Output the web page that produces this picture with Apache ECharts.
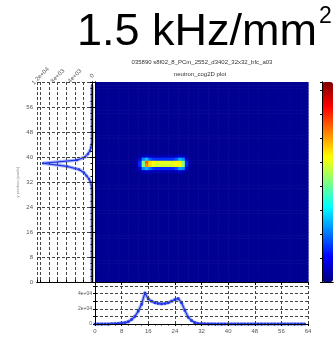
<!DOCTYPE html>
<html>
<head>
<meta charset="utf-8">
<script src="https://cdn.jsdelivr.net/npm/echarts@6/dist/echarts.min.js"></script>
<style>
  html, body { margin: 0; padding: 0; background: #fff; }
  #chart { width: 335px; height: 338px; }
</style>
</head>
<body>
<div id="chart"></div>
<script>
// Detector size (pixels per side) and tick positions shared by all panels
const GRID_SIZE = 64;
const TICK_STEP = 8;

// Flat level of the detector image away from the hot spot (normalised 0..1)
const BACKGROUND_LEVEL = 0.02;

// Hot-spot patch: rows 35..40 (bottom to top), columns 12..28
const HOT_ROW0 = 35;
const HOT_COL0 = 12;
const HOTSPOT = [
  [0.02, 0.03, 0.06, 0.08, 0.06, 0.05, 0.05, 0.05, 0.05, 0.05, 0.05, 0.05, 0.06, 0.08, 0.06, 0.03, 0.02],
  [0.03, 0.08, 0.26, 0.30, 0.24, 0.18, 0.16, 0.16, 0.16, 0.16, 0.16, 0.17, 0.20, 0.28, 0.26, 0.08, 0.03],
  [0.04, 0.16, 0.50, 0.74, 0.66, 0.60, 0.58, 0.58, 0.58, 0.58, 0.58, 0.60, 0.62, 0.62, 0.52, 0.16, 0.04],
  [0.04, 0.16, 0.48, 0.78, 0.66, 0.62, 0.60, 0.60, 0.60, 0.60, 0.60, 0.60, 0.62, 0.64, 0.50, 0.16, 0.04],
  [0.03, 0.08, 0.26, 0.32, 0.22, 0.18, 0.17, 0.17, 0.17, 0.17, 0.17, 0.18, 0.22, 0.30, 0.26, 0.08, 0.03],
  [0.02, 0.03, 0.06, 0.08, 0.06, 0.05, 0.05, 0.05, 0.05, 0.05, 0.05, 0.05, 0.06, 0.08, 0.06, 0.03, 0.02]
];

// Row projection (counts per detector row 0..63)
const ROW_PROFILE = [
  0, 0, 0, 0, 0, 0, 0, 0, 0, 0, 0, 0, 0, 0, 0, 0,
  0, 0, 0, 0, 0, 0, 0, 0, 0, 0, 0, 0, 0, 0, 50, 120,
  350, 700, 1280, 1860, 3000, 5800, 11400, 3500, 1630, 930, 470, 230, 80, 0, 0, 0,
  0, 0, 0, 0, 0, 0, 0, 0, 0, 0, 0, 0, 0, 0, 0, 0
];

// Column projection (counts per detector column 0..63)
const COL_PROFILE = [
  0, 0, 0, 0, 0, 300, 500, 800, 1200, 1800, 3000, 6000, 10000, 17000, 26000, 41000,
  33000, 30000, 28000, 27000, 26500, 27000, 28000, 30000, 32000, 33500, 28000, 18000, 9000, 4500, 1800, 600,
  300, 200, 150, 100, 60, 30, 0, 0, 0, 0, 0, 0, 0, 0, 0, 0,
  0, 0, 0, 0, 0, 0, 0, 0, 0, 0, 0, 0, 0, 0, 0, 0
];

// Jet colour ramp used by the image and the colour bar
const JET = ['#00007f', '#0000ff', '#007fff', '#00ffff', '#7fff7f', '#ffff00', '#ff7f00', '#ff0000', '#7f0000'];

const TITLE = '1.5 kHz/mm';
const TITLE_SUP = '2';
const RUN_LABEL = '035890 s8f02_8_PCm_2552_d3402_32x32_bfc_a03';
const PLOT_LABEL = 'neutron_cog2D plot';
const ROW_AXIS_NAME = 'y position (pixels)';

const FONT = 'Liberation Sans, Arial, sans-serif';

// Build image cells [col, row, level]
function levelAt(col, row) {
  const r = row - HOT_ROW0;
  const c = col - HOT_COL0;
  if (r >= 0 && r < HOTSPOT.length && c >= 0 && c < HOTSPOT[0].length) {
    return HOTSPOT[r][c];
  }
  return BACKGROUND_LEVEL;
}
const cells = [];
for (let row = 0; row < GRID_SIZE; row++) {
  for (let col = 0; col < GRID_SIZE; col++) {
    cells.push([col, row, levelAt(col, row)]);
  }
}
const rowSeries = ROW_PROFILE.map((v, i) => [v, i]);
const colSeries = COL_PROFILE.map((v, i) => [i, v]);

function sci(v) {
  if (v === 0) return '0';
  const parts = v.toExponential().split('e');
  const sign = parts[1][0];
  const digits = parts[1].slice(1).padStart(2, '0');
  return parts[0] + 'e' + sign + digits;
}

const dashed = { show: true, lineStyle: { color: '#444', width: 1, type: [3, 2] } };
const frameLine = { show: true, lineStyle: { color: '#000', width: 1 } };
const tickLabel = { fontSize: 6, color: '#555', fontFamily: FONT };

function plainAxis(extra) {
  return Object.assign({
    type: 'value',
    axisLine: frameLine,
    axisTick: { show: false },
    axisLabel: { show: false },
    splitLine: { show: false },
    z: 10
  }, extra);
}

const chart = echarts.init(document.getElementById('chart'), null, { renderer: 'canvas' });

chart.setOption({
  animation: false,
  backgroundColor: '#fff',
  textStyle: { fontFamily: FONT },
  title: [
    { text: TITLE, left: 77, top: 10, padding: 0,
      textStyle: { fontSize: 45, fontWeight: 'normal', color: '#000', fontFamily: FONT } },
    { text: TITLE_SUP, left: 319, top: 5, padding: 0,
      textStyle: { fontSize: 23, fontWeight: 'normal', color: '#000', fontFamily: FONT } },
    { text: RUN_LABEL, left: 202, top: 59, padding: 0, textAlign: 'center',
      textStyle: { fontSize: 6, fontWeight: 'normal', color: '#333', fontFamily: FONT } },
    { text: PLOT_LABEL, left: 200, top: 71, padding: 0, textAlign: 'center',
      textStyle: { fontSize: 6, fontWeight: 'normal', color: '#333', fontFamily: FONT } }
  ],
  grid: [
    { left: 95, top: 82, width: 213, height: 200 },   // image
    { left: 37, top: 82, width: 55, height: 200 },    // row projection
    { left: 95, top: 286, width: 213, height: 38 },   // column projection
    { left: 322, top: 82, width: 11, height: 200 }    // colour bar frame
  ],
  xAxis: [
    // image
    plainAxis({ gridIndex: 0, min: 0, max: GRID_SIZE, interval: TICK_STEP, position: 'top',
      axisTick: { show: true, inside: true, length: 3, lineStyle: { color: '#000' } } }),
    plainAxis({ gridIndex: 0, min: 0, max: GRID_SIZE, interval: TICK_STEP, position: 'bottom' }),
    // row projection
    plainAxis({ gridIndex: 1, min: 0, max: 12800, interval: 4000, position: 'top', inverse: true,
      axisTick: { show: true, length: 2, lineStyle: { color: '#000' } },
      minorTick: { show: true, splitNumber: 2, length: 2, lineStyle: { color: '#000' } },
      splitLine: dashed,
      minorSplitLine: dashed,
      axisLabel: Object.assign({ show: true, rotate: 45, margin: 6, align: 'center', verticalAlign: 'middle',
        formatter: sci }, tickLabel) }),
    plainAxis({ gridIndex: 1, min: 0, max: 12800, position: 'bottom', inverse: true }),
    // column projection
    plainAxis({ gridIndex: 2, min: 0, max: GRID_SIZE, interval: TICK_STEP, position: 'bottom',
      axisTick: { show: true, length: 2, lineStyle: { color: '#000' } },
      minorTick: { show: true, splitNumber: 4, length: 1.5, lineStyle: { color: '#000' } },
      splitLine: dashed,
      axisLabel: Object.assign({ show: true, margin: 4 }, tickLabel) }),
    plainAxis({ gridIndex: 2, min: 0, max: GRID_SIZE, position: 'top' }),
    // colour bar frame
    plainAxis({ gridIndex: 3, min: 0, max: 1, position: 'bottom' }),
    plainAxis({ gridIndex: 3, min: 0, max: 1, position: 'top' })
  ],
  yAxis: [
    // image
    plainAxis({ gridIndex: 0, min: 0, max: GRID_SIZE, interval: TICK_STEP, position: 'right',
      axisTick: { show: true, inside: true, length: 3, lineStyle: { color: '#000' } } }),
    plainAxis({ gridIndex: 0, min: 0, max: GRID_SIZE, interval: TICK_STEP, position: 'left' }),
    // row projection
    plainAxis({ gridIndex: 1, min: 0, max: GRID_SIZE, interval: TICK_STEP, position: 'left',
      axisTick: { show: true, length: 2, lineStyle: { color: '#000' } },
      minorTick: { show: true, splitNumber: 4, length: 1.5, lineStyle: { color: '#000' } },
      splitLine: dashed,
      name: ROW_AXIS_NAME, nameLocation: 'middle', nameGap: 17, nameRotate: 90,
      nameTextStyle: { fontSize: 4, color: '#888', fontFamily: FONT },
      axisLabel: Object.assign({ show: true, margin: 4, showMaxLabel: false }, tickLabel) }),
    plainAxis({ gridIndex: 1, min: 0, max: GRID_SIZE, position: 'right' }),
    // column projection
    plainAxis({ gridIndex: 2, min: 0, max: 50000, interval: 10000, position: 'left',
      axisTick: { show: true, length: 2, lineStyle: { color: '#000' } },
      splitLine: dashed,
      axisLabel: Object.assign({ show: true, margin: 3,
        formatter: v => (v % 20000 === 0 ? sci(v) : '') }, tickLabel, { fontSize: 5 }) }),
    plainAxis({ gridIndex: 2, min: 0, max: 50000, interval: 10000, position: 'right',
      axisTick: { show: true, length: 2, lineStyle: { color: '#000' } } }),
    // colour bar ticks
    plainAxis({ gridIndex: 3, min: 0, max: 8.33, interval: 1, position: 'right',
      axisTick: { show: true, inside: true, length: 2, lineStyle: { color: '#000' } } }),
    plainAxis({ gridIndex: 3, min: 0, max: 8.33, position: 'left' })
  ],
  visualMap: {
    type: 'continuous',
    seriesIndex: 0,
    dimension: 2,
    min: 0,
    max: 1,
    calculable: false,
    realtime: false,
    orient: 'vertical',
    left: 322,
    top: 82,
    padding: 0,
    itemWidth: 11,
    itemHeight: 200,
    text: null,
    z: 1,
    inRange: { color: JET }
  },
  series: [
    {
      type: 'custom',
      xAxisIndex: 0,
      yAxisIndex: 0,
      data: cells,
      encode: { x: 0, y: 1 },
      clip: true,
      silent: true,
      renderItem: function (params, api) {
        const col = api.value(0);
        const row = api.value(1);
        const p0 = api.coord([col, row + 1]);
        const p1 = api.coord([col + 1, row]);
        return {
          type: 'rect',
          shape: { x: p0[0], y: p0[1], width: p1[0] - p0[0] + 0.6, height: p1[1] - p0[1] + 0.6 },
          style: { fill: api.visual('color') }
        };
      }
    },
    {
      type: 'line', xAxisIndex: 2, yAxisIndex: 2, data: rowSeries,
      showSymbol: false, silent: true, z: 3,
      lineStyle: { color: '#a9b5f5', width: 3.5 }
    },
    {
      type: 'line', xAxisIndex: 2, yAxisIndex: 2, data: rowSeries,
      symbol: 'rect', symbolSize: 2, silent: true, z: 4,
      itemStyle: { color: '#1f33e6' },
      lineStyle: { color: '#1f33e6', width: 1.2 }
    },
    {
      type: 'line', xAxisIndex: 4, yAxisIndex: 4, data: colSeries,
      showSymbol: false, silent: true, z: 3,
      lineStyle: { color: '#a9b5f5', width: 3.5 }
    },
    {
      type: 'line', xAxisIndex: 4, yAxisIndex: 4, data: colSeries,
      symbol: 'rect', symbolSize: 2.5, silent: true, z: 4,
      itemStyle: { color: '#1f33e6' },
      lineStyle: { color: '#1f33e6', width: 1.2 }
    }
  ]
});
</script>
</body>
</html>
